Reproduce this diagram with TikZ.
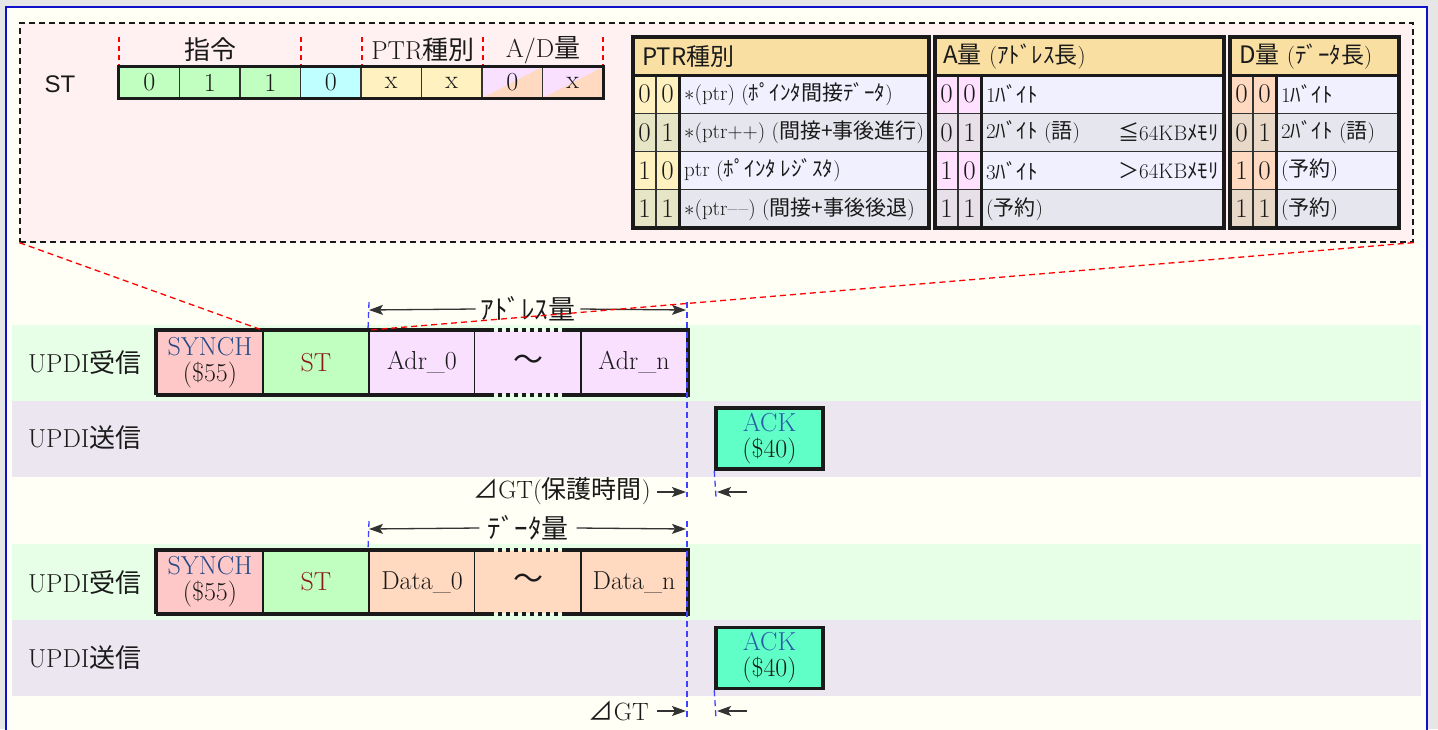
\documentclass[tikz,border=0pt]{standalone}
\usepackage{fontspec}
\newfontfamily\jpf{Noto Sans CJK JP}
\newfontfamily\sansf{Liberation Sans}
\usetikzlibrary{arrows.meta,calc}
\newcommand\J[1]{{\jpf #1}}
\newcommand\fsz[1]{\fontsize{#1}{#1}\selectfont}
\definecolor{pagegrey}{HTML}{E6E6E6}
\definecolor{ivoryc}{HTML}{FFFFF6}
\definecolor{framec}{HTML}{1010CC}
\definecolor{pinkc}{HTML}{FFF0F2}
\definecolor{bandg}{HTML}{E6FFE6}
\definecolor{bandl}{HTML}{ECE6F0}
\definecolor{synchc}{HTML}{FFC8C8}
\definecolor{stc}{HTML}{C0FFC0}
\definecolor{adrc}{HTML}{F9E0FF}
\definecolor{datac}{HTML}{FFD9C0}
\definecolor{ackc}{HTML}{60FFC8}
\definecolor{cyanc}{HTML}{C0FFFF}
\definecolor{yelc}{HTML}{FFF2C0}
\definecolor{hdrc}{HTML}{F9DFA2}
\definecolor{rowl}{HTML}{F0F0FF}
\definecolor{rowd}{HTML}{E6E6EE}
\definecolor{pbl}{HTML}{FFF2C0}
\definecolor{pbd}{HTML}{E6E6C6}
\definecolor{abl}{HTML}{FFE0FF}
\definecolor{abd}{HTML}{E8E0E8}
\definecolor{dbl}{HTML}{FFDAC0}
\definecolor{dbd}{HTML}{E8D8C8}
\definecolor{synchtxt}{HTML}{244A88}
\definecolor{sttxt}{HTML}{8B1A1A}
\definecolor{acktxt}{HTML}{2A5EA6}
\definecolor{bluedc}{HTML}{4040FF}
\definecolor{inkc}{HTML}{1A1A1A}
\definecolor{linec}{HTML}{333333}

% table frame: L B1 B2 R
\newcommand\tframe[4]{%
  \draw[linec,line width=1.2pt] (#1,113.25) -- (#4,113.25) (#1,151.5) -- (#4,151.5) (#1,189.75) -- (#4,189.75);
  \draw[linec,line width=1.2pt] (#2,75) -- (#2,228);
  \draw[inkc,line width=3pt] (#3,75) -- (#3,228);
  \draw[inkc,line width=3pt] (#1,75) -- (#4,75);
  \draw[inkc,line width=3.5pt] (#1,37) rectangle (#4,228);
}
% table rows: L B1 B2 R prefix list
\newcommand\trows[6]{%
  \foreach \k/\ba/\bb/\bc/\tc/\txt in {#6}{%
    \pgfmathsetmacro\yt{75+38.25*\k}
    \pgfmathsetmacro\yb{\yt+38.25}
    \pgfmathsetmacro\yc{\yt+19.125}
    \pgfmathsetmacro\xa{(#1+#2)/2}
    \pgfmathsetmacro\xb{(#2+#3)/2}
    \fill[\bc] (#1,\yt) rectangle (#3,\yb);
    \fill[\tc] (#3,\yt) rectangle (#4,\yb);
    \node[tdig] (#5a\k) at (\xa,\yc) {\ba};
    \node[tdig] (#5b\k) at (\xb,\yc) {\bb};
    \node[ttext,anchor=west] (#5t\k) at (#3+5,\yc) {\txt};
  }%
}

\begin{document}
\begin{tikzpicture}[x=1pt,y=-1pt,
  every node/.style={inner sep=0pt,text=inkc},
  bitcell/.style={draw=linec,line width=1.2pt,minimum width=60.5pt,minimum height=31pt,font=\fsz{26}},
  ticks/.style={draw=red,line width=1.2pt,dash pattern=on 5pt off 4pt},
  tbox/.style={draw=inkc,line width=2pt,minimum width=106pt,minimum height=63pt,font=\fsz{26},align=center},
  ackbox/.style={draw=inkc,line width=3.5pt,minimum width=107pt,minimum height=61pt,font=\fsz{26},align=center,fill=ackc},
  tdig/.style={font=\fsz{27}},
  ttext/.style={font=\fsz{21}},
  thdr/.style={font=\fsz{24},anchor=west},
  lbl/.style={font=\fsz{26},anchor=west},
  dimarrow/.style={draw=linec,line width=1.3pt,-{Stealth[length=14pt,width=10pt,inset=3pt]}},
  bluedash/.style={draw=bluedc,line width=1.3pt,dash pattern=on 6pt off 4pt},
  reddash/.style={draw=red,line width=1.3pt,dash pattern=on 6pt off 4pt},
  thickb/.style={draw=inkc,line width=3.5pt},
  dotb/.style={draw=inkc,line width=3.5pt,dash pattern=on 4pt off 4pt},
]
\useasboundingbox (0,0) rectangle (1438,729);
\clip (0,0) rectangle (1438,729);
\fill[pagegrey] (0,0) rectangle (1438,729);
\draw[framec,line width=2pt,fill=ivoryc] (6,7) rectangle (1427,745);

% ---------- zoom box ----------
\node[draw=inkc,fill=pinkc,line width=1.3pt,dash pattern=on 6pt off 4pt,minimum width=1393pt,minimum height=219pt] (zm) at (716.5,132.5) {};

\node[font=\sansf\fsz{24}] (stlbl) at (60,84) {ST};
\foreach \i/\c/\t in {0/stc/0,1/stc/1,2/stc/1,3/cyanc/0,4/yelc/x,5/yelc/x}
  \node[bitcell,fill=\c] (b\i) at ({119+60.5*(\i+0.5)},82.5) {\t};
\foreach \i/\t in {6/0,7/x}
  \node[bitcell,fill=adrc,path picture={\fill[datac] (path picture bounding box.south west) -- (path picture bounding box.south east) -- (path picture bounding box.north east) -- cycle;}] (b\i) at ({119+60.5*(\i+0.5)},82.5) {\t};
\draw[thickb] (b0.north west) rectangle (b7.south east);
\foreach \x in {119,301,362,483,603}
  \draw[ticks] (\x,37) -- (\x,65);
\node[font=\fsz{26}] (hcmd) at (210,50) {\J{指令}};
\node[font=\fsz{26}] (hptr) at (423,50) {PTR\J{種別}};
\node[font=\fsz{26}] (had) at (543,50) {A/D\J{量}};

% PTR table
\fill[hdrc] (633,37) rectangle (929,75);
\node[thdr] (ph) at (642,57) {\jpf PTR種別};
\trows{633}{656}{679}{929}{p}{0/0/0/pbl/rowl/{$\ast$(ptr) (\J{ﾎﾟｲﾝﾀ間接ﾃﾞｰﾀ})},1/0/1/pbd/rowd/{$\ast$(ptr++) (\J{間接+事後進行})},2/1/0/pbl/rowl/{ptr (\J{ﾎﾟｲﾝﾀ ﾚｼﾞｽﾀ})},3/1/1/pbd/rowd/{$\ast$(ptr\textendash\kern1.5pt\textendash) (\J{間接+事後後退})}}
\tframe{633}{656}{679}{929}

% A table
\fill[hdrc] (935,37) rectangle (1224,75);
\node[thdr] (ah) at (943,57) {\J{A量} {\fsz{23}(\J{ｱﾄﾞﾚｽ長})}};
\trows{935}{958}{981}{1224}{a}{0/0/0/abl/rowl/{1\J{ﾊﾞｲﾄ}},1/0/1/abd/rowd/{2\J{ﾊﾞｲﾄ} (\J{語})},2/1/0/abl/rowl/{3\J{ﾊﾞｲﾄ}},3/1/1/abd/rowd/{(\J{予約})}}
\node[ttext,anchor=east] (am1) at (1219,132.4) {\J{≦}64KB\J{ﾒﾓﾘ}};
\node[ttext,anchor=east] (am2) at (1219,170.6) {\J{＞}64KB\J{ﾒﾓﾘ}};
\tframe{935}{958}{981}{1224}

% D table
\fill[hdrc] (1230,37) rectangle (1399,75);
\node[thdr] (dh) at (1239,57) {\J{D量} {\fsz{23}(\J{ﾃﾞｰﾀ長})}};
\trows{1230}{1253}{1276}{1399}{d}{0/0/0/dbl/rowl/{1\J{ﾊﾞｲﾄ}},1/0/1/dbd/rowd/{2\J{ﾊﾞｲﾄ} (\J{語})},2/1/0/dbl/rowl/{(\J{予約})},3/1/1/dbd/rowd/{(\J{予約})}}
\tframe{1230}{1253}{1276}{1399}

% ---------- timing bands ----------
\fill[bandg] (12,325) rectangle (1421,401);
\fill[bandl] (12,401) rectangle (1421,477);
\fill[bandg] (12,544) rectangle (1421,620);
\fill[bandl] (12,620) rectangle (1421,696);

\node[lbl] (rx1) at (28,363) {UPDI\J{受信}};
\node[lbl] (tx1) at (28,438) {UPDI\J{送信}};
\node[lbl] (rx2) at (28,583) {UPDI\J{受信}};
\node[lbl] (tx2) at (28,658) {UPDI\J{送信}};

% row 1
\node[tbox,fill=synchc] (sy1) at (210,362.5) {\textcolor{synchtxt}{SYNCH}\\(\$55)};
\node[tbox,fill=stc] (st1) at (316,362.5) {\textcolor{sttxt}{ST}};
\node[tbox,fill=adrc] (a01) at (422,362.5) {Adr\_0};
\node[tbox,fill=adrc,draw=none,font=\fsz{30}] (ti1) at (528,362.5) {\J{～}};
\node[tbox,fill=adrc] (an1) at (634,362.5) {Adr\_n};
\draw[thickb] (sy1.south west) -- (sy1.north west) -- ($(ti1.north west)+(16,0)$);
\draw[dotb] ($(ti1.north west)+(16,0)$) -- ($(ti1.north east)+(-16,0)$);
\draw[thickb] ($(ti1.north east)+(-16,0)$) -- (an1.north east) -- (an1.south east) -- ($(ti1.south east)+(-16,0)$);
\draw[dotb] ($(ti1.south east)+(-16,0)$) -- ($(ti1.south west)+(16,0)$);
\draw[thickb] ($(ti1.south west)+(16,0)$) -- (sy1.south west);

\node[ackbox] (ack1) at (769.5,438.5) {\textcolor{acktxt}{ACK}\\(\$40)};

% row 2
\node[tbox,fill=synchc,minimum height=62pt] (sy2) at (210,582) {\textcolor{synchtxt}{SYNCH}\\(\$55)};
\node[tbox,fill=stc,minimum height=62pt] (st2) at (316,582) {\textcolor{sttxt}{ST}};
\node[tbox,fill=datac,minimum height=62pt] (d02) at (422,582) {Data\_0};
\node[tbox,fill=datac,minimum height=62pt,draw=none,font=\fsz{30}] (ti2) at (528,582) {\J{～}};
\node[tbox,fill=datac,minimum height=62pt] (dn2) at (634,582) {Data\_n};
\draw[thickb] (sy2.south west) -- (sy2.north west) -- ($(ti2.north west)+(16,0)$);
\draw[dotb] ($(ti2.north west)+(16,0)$) -- ($(ti2.north east)+(-16,0)$);
\draw[thickb] ($(ti2.north east)+(-16,0)$) -- (dn2.north east) -- (dn2.south east) -- ($(ti2.south east)+(-16,0)$);
\draw[dotb] ($(ti2.south east)+(-16,0)$) -- ($(ti2.south west)+(16,0)$);
\draw[thickb] ($(ti2.south west)+(16,0)$) -- (sy2.south west);

\node[ackbox] (ack2) at (769.5,658) {\textcolor{acktxt}{ACK}\\(\$40)};

% ---------- guides ----------
\coordinate (g1a) at (369,302);
\coordinate (g1b) at (687,302);
\coordinate (g1c) at (687,497);
\coordinate (g1d) at (716,497);
\draw[bluedash] (g1a) -- (a01.north west);
\draw[bluedash] (g1b) -- (g1c);
\draw[bluedash] (ack1.south west) -- (g1d);
\coordinate (g2a) at (369,521);
\coordinate (g2b) at (687,521);
\coordinate (g2c) at (687,718);
\coordinate (g2d) at (716,718);
\draw[bluedash] (g2a) -- (d02.north west);
\draw[bluedash] (g2b) -- (g2c);
\draw[bluedash] (ack2.south west) -- (g2d);

% dimension arrows
\coordinate (d1l) at (369,310);
\coordinate (d1r) at (686,310);
\node[font=\fsz{27},inner xsep=5pt] (d1t) at (528,309) {\J{ｱﾄﾞﾚｽ量}};
\draw[dimarrow] (d1t.west) -- (d1l);
\draw[dimarrow] (d1t.east) -- (d1r);
\coordinate (d2l) at (369,529);
\coordinate (d2r) at (686,529);
\node[font=\fsz{27},inner xsep=8pt] (d2t) at (528,528) {\J{ﾃﾞｰﾀ量}};
\draw[dimarrow] (d2t.west) -- (d2l);
\draw[dimarrow] (d2t.east) -- (d2r);

% guard time
\node[font=\fsz{25},anchor=east] (gt1) at (651,491) {\J{⊿}GT(\J{保護時間})};
\coordinate (gt1e) at (686,492);
\draw[dimarrow] ($(gt1.east)+(6,1)$) -- (gt1e);
\coordinate (gr1s) at (747,492);
\coordinate (gr1e) at (717,492);
\draw[dimarrow] (gr1s) -- (gr1e);
\node[font=\fsz{25},anchor=east] (gt2) at (649,711) {\J{⊿}GT};
\coordinate (gt2e) at (686,711);
\draw[dimarrow] ($(gt2.east)+(8,0)$) -- (gt2e);
\coordinate (gr2s) at (747,711);
\coordinate (gr2e) at (717,711);
\draw[dimarrow] (gr2s) -- (gr2e);

% zoom lines
\draw[reddash] (zm.south west) -- (st1.north west);
\draw[reddash] (zm.south east) -- (st1.north east);
\end{tikzpicture}
\end{document}
